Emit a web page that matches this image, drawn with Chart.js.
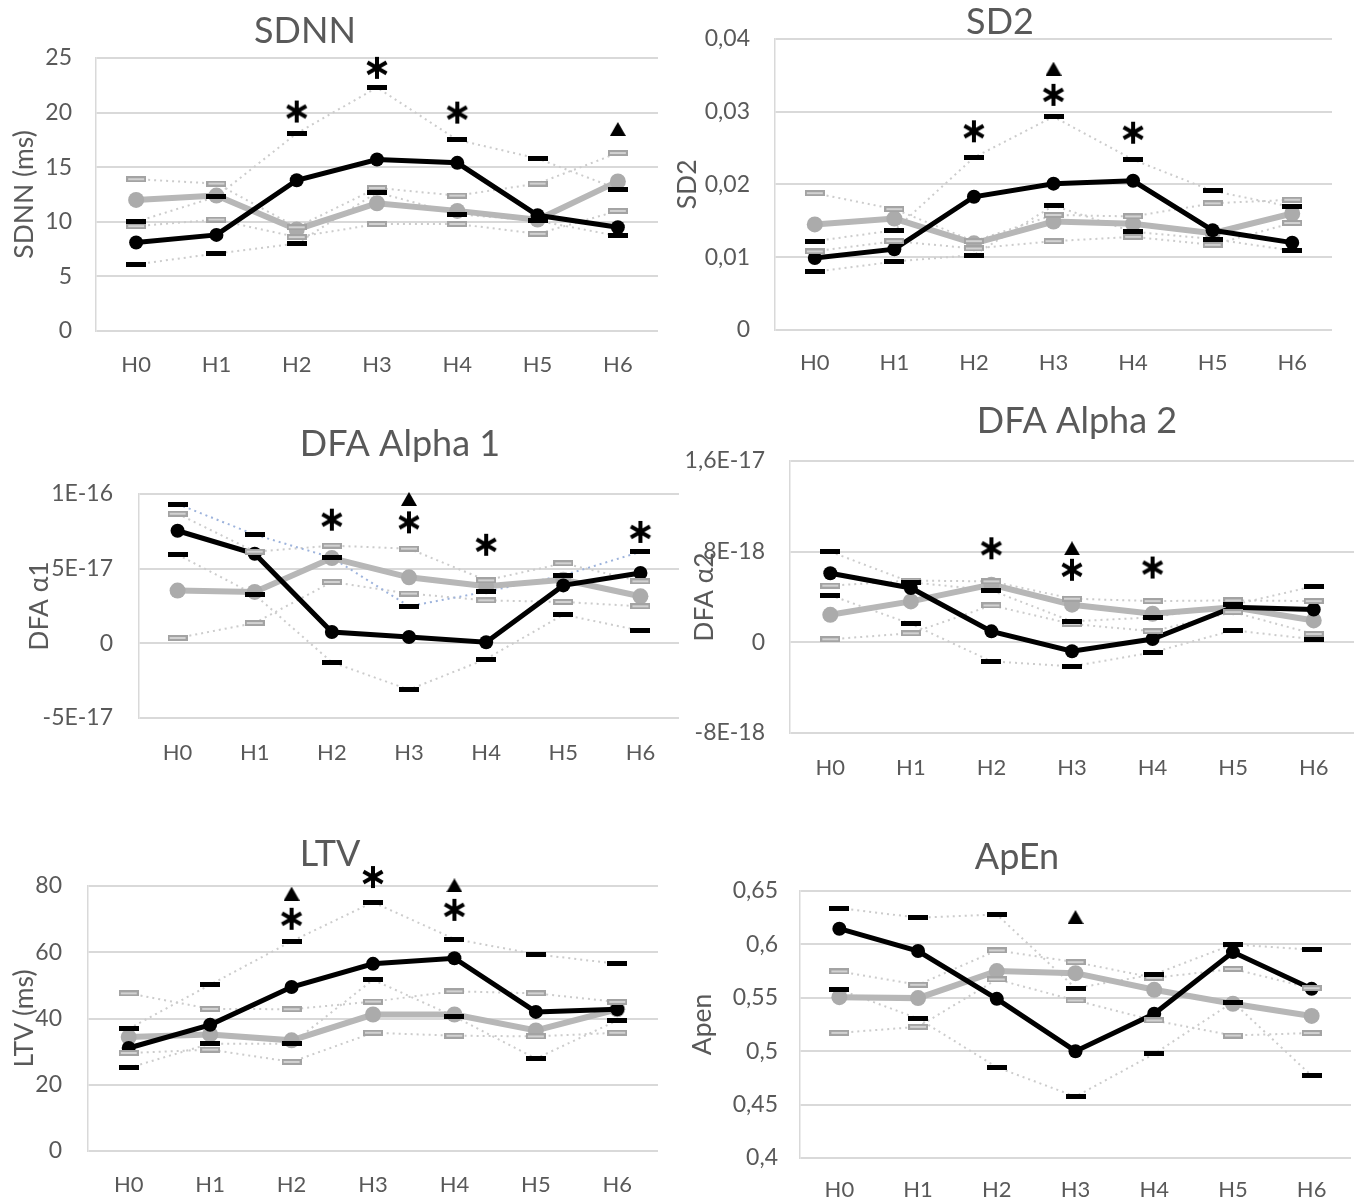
<!DOCTYPE html>
<html>
<head>
<meta charset="utf-8">
<title>HRV panels</title>
<script src="https://cdn.jsdelivr.net/npm/chart.js@4.4.1/dist/chart.umd.min.js"></script>
<style>
  html, body { margin: 0; background: #fff; }
  body { position: relative; width: 1358px; height: 1202px; overflow: hidden; }
  canvas { position: absolute; }
</style>
</head>
<body>
<canvas id="sdnn"></canvas>
<canvas id="sd2"></canvas>
<canvas id="dfa1"></canvas>
<canvas id="dfa2"></canvas>
<canvas id="ltv"></canvas>
<canvas id="apen"></canvas>
<script>
var hours = ["H0", "H1", "H2", "H3", "H4", "H5", "H6"];

// SDNN (ms)
var sdnnBlack     = [8.1, 8.8, 13.8, 15.7, 15.4, 10.6, 9.5];
var sdnnBlackHigh = [10.0, 12.3, 18.1, 22.3, 17.5, 15.8, 13.0];
var sdnnBlackLow  = [6.1, 7.1, 8.0, 12.7, 10.7, 10.1, 8.7];
var sdnnGray      = [12.0, 12.4, 9.3, 11.7, 11.0, 10.2, 13.7];
var sdnnGrayHigh  = [13.9, 13.5, 9.5, 13.1, 12.4, 13.5, 16.3];
var sdnnGrayLow   = [9.6, 10.2, 8.6, 9.8, 9.8, 8.9, 11.0];
var sdnnStar      = [null, null, 20.1, 24.1, 20.0, null, null];
var sdnnTriangle  = [null, null, null, null, null, null, 18.5];
var sdnnTicks      = [0, 5, 10, 15, 20, 25];
var sdnnTickLabels = ["0", "5", "10", "15", "20", "25"];

// SD2
var sd2Black     = [0.0099, 0.0111, 0.0183, 0.0201, 0.0205, 0.0137, 0.0120];
var sd2BlackHigh = [0.0122, 0.0137, 0.0237, 0.0293, 0.0234, 0.0191, 0.0169];
var sd2BlackLow  = [0.0080, 0.0094, 0.0103, 0.0171, 0.0135, 0.0125, 0.0109];
var sd2Gray      = [0.0145, 0.0153, 0.0119, 0.0149, 0.0146, 0.0133, 0.0160];
var sd2GrayHigh  = [0.0188, 0.0166, 0.0122, 0.0158, 0.0156, 0.0174, 0.0179];
var sd2GrayLow   = [0.0108, 0.0122, 0.0112, 0.0122, 0.0128, 0.0117, 0.0147];
var sd2Star      = [null, null, 0.0273, 0.0323, 0.0271, null, null];
var sd2Triangle  = [null, null, null, 0.0359, null, null, null];
var sd2Ticks      = [0, 0.01, 0.02, 0.03, 0.04];
var sd2TickLabels = ["0", "0,01", "0,02", "0,03", "0,04"];

// DFA alpha 1
var dfa1Black     = [7.54e-17, 6.0e-17, 0.76e-17, 0.42e-17, 0.07e-17, 3.88e-17, 4.71e-17];
var dfa1BlackHigh = [9.33e-17, 7.28e-17, 5.74e-17, 2.48e-17, 3.46e-17, 4.55e-17, 6.12e-17];
var dfa1BlackLow  = [5.94e-17, 3.26e-17, -1.27e-17, -3.1e-17, -1.05e-17, 1.92e-17, 0.85e-17];
var dfa1Gray      = [3.53e-17, 3.44e-17, 5.71e-17, 4.42e-17, 3.82e-17, 4.26e-17, 3.15e-17];
var dfa1GrayHigh  = [8.68e-17, 6.14e-17, 6.54e-17, 6.34e-17, 4.22e-17, 5.36e-17, 4.15e-17];
var dfa1GrayLow   = [0.36e-17, 1.36e-17, 4.11e-17, 3.33e-17, 2.88e-17, 2.77e-17, 2.48e-17];
var dfa1Star      = [null, null, 8.28e-17, 8.1e-17, 6.6e-17, null, 7.46e-17];
var dfa1Triangle  = [null, null, null, 9.67e-17, null, null, null];
var dfa1Ticks      = [-5e-17, 0, 5e-17, 1e-16];
var dfa1TickLabels = ["-5E-17", "0", "5E-17", "1E-16"];

// DFA alpha 2
var dfa2Black     = [6.1e-18, 4.8e-18, 0.97e-18, -0.79e-18, 0.29e-18, 3.1e-18, 2.9e-18];
var dfa2BlackHigh = [8.0e-18, 5.3e-18, 4.59e-18, 1.85e-18, 2.2e-18, 3.3e-18, 4.95e-18];
var dfa2BlackLow  = [4.15e-18, 1.63e-18, -1.68e-18, -2.12e-18, -0.89e-18, 1.06e-18, 0.27e-18];
var dfa2Gray      = [2.43e-18, 3.61e-18, 5.09e-18, 3.32e-18, 2.52e-18, 3.1e-18, 1.93e-18];
var dfa2GrayHigh  = [5.0e-18, 5.45e-18, 5.38e-18, 3.85e-18, 3.64e-18, 3.7e-18, 3.64e-18];
var dfa2GrayLow   = [0.27e-18, 0.8e-18, 3.26e-18, 1.62e-18, 0.98e-18, 2.67e-18, 0.74e-18];
var dfa2Star      = [null, null, 8.3e-18, 6.4e-18, 6.6e-18, null, null];
var dfa2Triangle  = [null, null, null, 8.3e-18, null, null, null];
var dfa2Ticks      = [-8e-18, 0, 8e-18, 1.6e-17];
var dfa2TickLabels = ["-8E-18", "0", "8E-18", "1,6E-17"];

// LTV (ms)
var ltvBlack     = [31.1, 38.1, 49.5, 56.5, 58.2, 42.0, 42.8];
var ltvBlackHigh = [36.9, 50.2, 63.3, 75.1, 64.0, 59.4, 56.5];
var ltvBlackLow  = [25.1, 32.4, 32.4, 51.7, 40.6, 27.9, 39.4];
var ltvGray      = [34.4, 35.2, 33.4, 41.2, 41.2, 36.4, 42.8];
var ltvGrayHigh  = [47.6, 42.9, 42.8, 45.1, 48.2, 47.6, 45.0];
var ltvGrayLow   = [29.6, 30.6, 26.9, 35.7, 34.8, 34.6, 35.7];
var ltvStar      = [null, null, 70.1, 82.7, 72.8, null, null];
var ltvTriangle  = [null, null, 77.7, null, 80.2, null, null];
var ltvTicks      = [0, 20, 40, 60, 80];
var ltvTickLabels = ["0", "20", "40", "60", "80"];

// ApEn
var apenBlack     = [0.6147, 0.5938, 0.549, 0.500, 0.535, 0.5928, 0.5584];
var apenBlackHigh = [0.634, 0.625, 0.628, 0.559, 0.5719, 0.600, 0.595];
var apenBlackLow  = [0.5578, 0.5306, 0.485, 0.4575, 0.4975, 0.546, 0.477];
var apenGray      = [0.5506, 0.5497, 0.575, 0.5731, 0.5575, 0.5444, 0.533];
var apenGrayHigh  = [0.5747, 0.5622, 0.5944, 0.5834, 0.5687, 0.577, 0.559];
var apenGrayLow   = [0.5172, 0.5228, 0.5672, 0.5475, 0.5288, 0.5147, 0.517];
var apenStar      = [null, null, null, null, null, null, null];
var apenTriangle  = [null, null, null, 0.6256, null, null, null];
var apenTicks      = [0.4, 0.45, 0.5, 0.55, 0.6, 0.65];
var apenTickLabels = ["0,4", "0,45", "0,5", "0,55", "0,6", "0,65"];

(function () {
  "use strict";

  var TEXT = "#595959";
  var GRID = "#d9d9d9";
  var DOTS = "#cccccc";
  var FONT = "Lato, 'Noto Sans', sans-serif";

  // page layout of each panel, in page pixels
  var panels = [
    { id: "sdnn", title: "SDNN", axisTitle: "SDNN (ms)",
      series: [sdnnBlack, sdnnBlackHigh, sdnnBlackLow, sdnnGray, sdnnGrayHigh, sdnnGrayLow, sdnnStar, sdnnTriangle],
      ticks: sdnnTicks, tickLabels: sdnnTickLabels,
      box: { left: 0, top: 0, width: 680, height: 395 },
      plot: { left: 96, right: 658, top: 58, bottom: 331 },
      titleAt: [305, 31], axisTitleX: 25, tickGap: 24, labelGap: 21 },
    { id: "sd2", title: "SD2", axisTitle: "SD2",
      series: [sd2Black, sd2BlackHigh, sd2BlackLow, sd2Gray, sd2GrayHigh, sd2GrayLow, sd2Star, sd2Triangle],
      ticks: sd2Ticks, tickLabels: sd2TickLabels,
      box: { left: 670, top: 0, width: 688, height: 395 },
      plot: { left: 775, right: 1332, top: 35, bottom: 330 },
      titleAt: [1000, 22], axisTitleX: 688, tickGap: 25, labelGap: 20 },
    { id: "dfa1", title: "DFA Alpha 1", axisTitle: "DFA α1",
      series: [dfa1Black, dfa1BlackHigh, dfa1BlackLow, dfa1Gray, dfa1GrayHigh, dfa1GrayLow, dfa1Star, dfa1Triangle],
      ticks: dfa1Ticks, tickLabels: dfa1TickLabels, highLine: "#9db3dc",
      box: { left: 0, top: 395, width: 680, height: 405 },
      plot: { left: 139, right: 679, top: 494, bottom: 718 },
      titleAt: [400, 444], axisTitleX: 40, tickGap: 26, labelGap: 22 },
    { id: "dfa2", title: "DFA Alpha 2", axisTitle: "DFA α2",
      series: [dfa2Black, dfa2BlackHigh, dfa2BlackLow, dfa2Gray, dfa2GrayHigh, dfa2GrayLow, dfa2Star, dfa2Triangle],
      ticks: dfa2Ticks, tickLabels: dfa2TickLabels,
      box: { left: 670, top: 395, width: 688, height: 405 },
      plot: { left: 790, right: 1354, top: 461, bottom: 733 },
      titleAt: [1077, 421], axisTitleX: 705, tickGap: 25, labelGap: 22 },
    { id: "ltv", title: "LTV", axisTitle: "LTV (ms)",
      series: [ltvBlack, ltvBlackHigh, ltvBlackLow, ltvGray, ltvGrayHigh, ltvGrayLow, ltvStar, ltvTriangle],
      ticks: ltvTicks, tickLabels: ltvTickLabels,
      box: { left: 0, top: 800, width: 680, height: 402 },
      plot: { left: 88, right: 658, top: 886, bottom: 1151 },
      titleAt: [330, 854], axisTitleX: 25, tickGap: 26, labelGap: 21 },
    { id: "apen", title: "ApEn", axisTitle: "Apen",
      series: [apenBlack, apenBlackHigh, apenBlackLow, apenGray, apenGrayHigh, apenGrayLow, apenStar, apenTriangle],
      ticks: apenTicks, tickLabels: apenTickLabels,
      box: { left: 670, top: 800, width: 688, height: 402 },
      plot: { left: 800, right: 1351, top: 891, bottom: 1158 },
      titleAt: [1017, 857], axisTitleX: 703, tickGap: 22, labelGap: 19 }
  ];

  // little bitmaps used as point styles
  function dash(fill, inner) {
    var c = document.createElement("canvas");
    c.width = 20; c.height = inner ? 6 : 5;
    var g = c.getContext("2d");
    g.fillStyle = fill;
    g.fillRect(0, 0, c.width, c.height);
    if (inner) {
      g.fillStyle = inner;
      g.fillRect(2, 2, 16, 2);
    }
    return c;
  }

  function asterisk() {
    var c = document.createElement("canvas");
    c.width = 26; c.height = 26;
    var g = c.getContext("2d");
    g.strokeStyle = "#000";
    g.lineWidth = 4;
    for (var k = 0; k < 3; k++) {
      var a = Math.PI / 2 + k * Math.PI / 3;
      g.beginPath();
      g.moveTo(13 + 11 * Math.cos(a), 13 + 11 * Math.sin(a));
      g.lineTo(13 - 11 * Math.cos(a), 13 - 11 * Math.sin(a));
      g.stroke();
    }
    return c;
  }

  function triangle() {
    var c = document.createElement("canvas");
    c.width = 16; c.height = 14;
    var g = c.getContext("2d");
    g.fillStyle = "#000";
    g.beginPath();
    g.moveTo(8, 0);
    g.lineTo(16, 14);
    g.lineTo(0, 14);
    g.closePath();
    g.fill();
    return c;
  }

  var blackDash = dash("#000000");
  var grayDash = dash("#a3a3a3", "#d2d2d2");
  var starMark = asterisk();
  var triMark = triangle();

  function marks(values, style) {
    return { data: values, showLine: false, pointStyle: style, pointRadius: 40, clip: false };
  }

  function dotted(values, color) {
    return { data: values, borderColor: color, borderWidth: 2, borderDash: [2, 4], pointRadius: 0 };
  }

  function mean(values, line, dot, width, radius) {
    return {
      data: values, borderColor: line, borderWidth: width,
      pointStyle: "circle", pointRadius: radius, pointBackgroundColor: dot, pointBorderWidth: 0
    };
  }

  var panelTitle = {
    id: "panelTitle",
    afterDraw: function (chart, args, opts) {
      var ctx = chart.ctx;
      ctx.save();
      ctx.font = "36px " + FONT;
      ctx.fillStyle = TEXT;
      ctx.textAlign = "center";
      ctx.textBaseline = "middle";
      ctx.fillText(opts.text, opts.x, opts.y);
      ctx.restore();
    }
  };

  panels.forEach(function (p) {
    var canvas = document.getElementById(p.id);
    canvas.width = p.box.width;
    canvas.height = p.box.height;
    canvas.style.left = p.box.left + "px";
    canvas.style.top = p.box.top + "px";

    var s = p.series;
    var datasets = [
      marks(s[6], starMark),
      marks(s[7], triMark),
      marks(s[1], blackDash),
      marks(s[2], blackDash),
      marks(s[4], grayDash),
      marks(s[5], grayDash),
      mean(s[0], "#000000", "#000000", 5, 7),
      mean(s[3], "#b7b7b7", "#ababab", 6, 8),
      dotted(s[1], p.highLine || DOTS),
      dotted(s[2], DOTS),
      dotted(s[4], DOTS),
      dotted(s[5], DOTS)
    ];

    new Chart(canvas, {
      type: "line",
      data: { labels: hours, datasets: datasets },
      plugins: [panelTitle],
      options: {
        responsive: false,
        animation: false,
        events: [],
        layout: {
          autoPadding: false,
          padding: {
            top: p.plot.top - p.box.top,
            right: p.box.left + p.box.width - p.plot.right,
            left: 0,
            bottom: 0
          }
        },
        plugins: {
          legend: { display: false },
          tooltip: { enabled: false },
          panelTitle: { text: p.title, x: p.titleAt[0] - p.box.left, y: p.titleAt[1] - p.box.top }
        },
        scales: {
          x: {
            offset: true,
            grid: { display: false, drawTicks: false },
            border: { display: false },
            ticks: { color: TEXT, font: { family: FONT, size: 22 }, padding: p.labelGap, maxRotation: 0 },
            afterFit: function (scale) {
              scale.height = p.box.top + p.box.height - p.plot.bottom;
            }
          },
          y: {
            min: p.ticks[0],
            max: p.ticks[p.ticks.length - 1],
            grid: { color: GRID, lineWidth: 2, drawTicks: false },
            border: { display: true, color: GRID, width: 1.5 },
            afterBuildTicks: function (scale) {
              scale.ticks = p.ticks.map(function (v) { return { value: v }; });
            },
            ticks: {
              color: TEXT,
              font: { family: FONT, size: 23 },
              padding: p.tickGap,
              autoSkip: false,
              callback: function (value, index) { return p.tickLabels[index]; }
            },
            title: {
              display: true,
              text: p.axisTitle,
              color: TEXT,
              font: { family: FONT, size: 26.5 },
              padding: { top: p.axisTitleX - p.box.left - 16, bottom: 0 }
            },
            afterFit: function (scale) {
              scale.width = p.plot.left - p.box.left;
            }
          }
        }
      }
    });
  });
})();
</script>
</body>
</html>
